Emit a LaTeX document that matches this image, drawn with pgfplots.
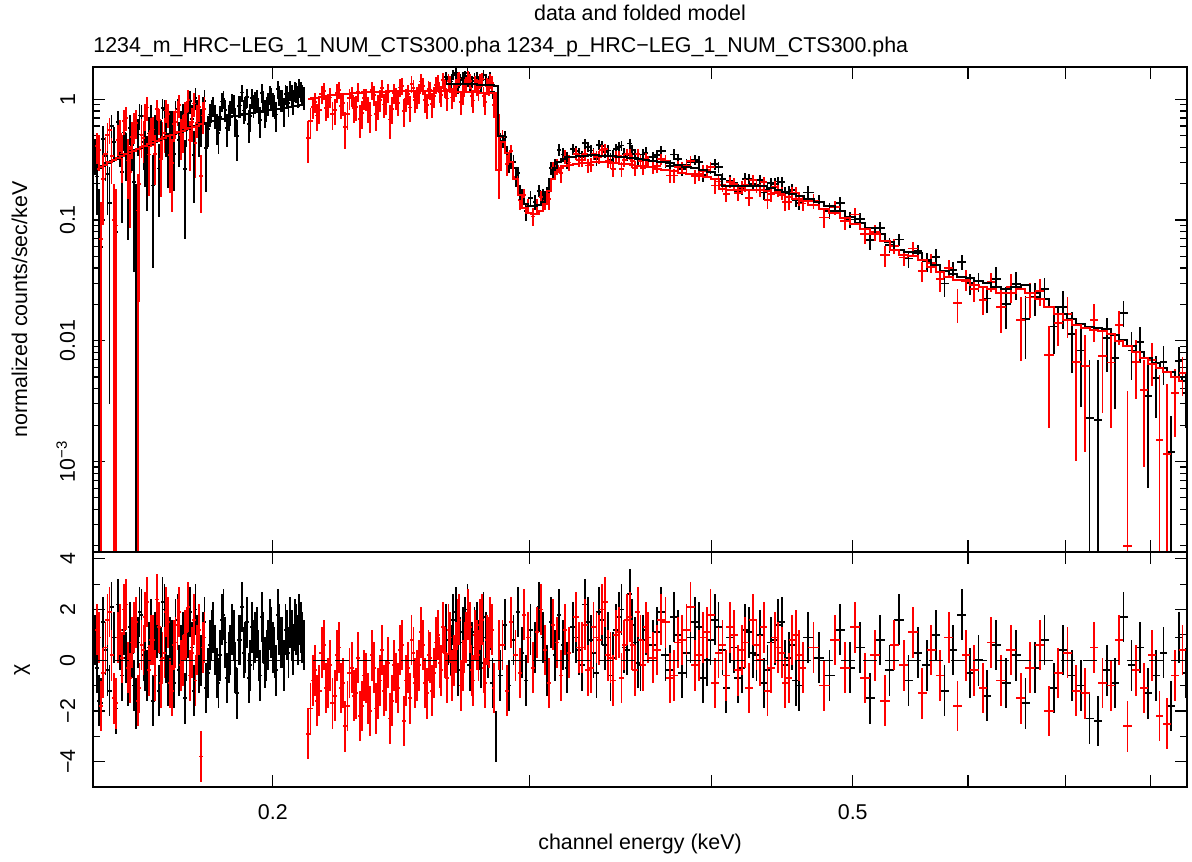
\documentclass[border=0pt]{standalone}
\usepackage{pgfplots}
\usepackage{pgfplotstable}
\pgfplotsset{compat=1.18}
\usepackage{fontspec}
\setmainfont{Liberation Sans}

% black (m order), segment A
\pgfplotstableread{
E dE y dy m r
0.151 0.0005 0.354 0.117 0.26 0.8
0.152 0.0005 0.09 0.0899 0.27 -1.6
0.153 0.0005 0.469 0.126 0.28 1.5
0.154 0.0005 0.242 0.133 0.295 -0.4
0.155 0.0005 0.603 0.140 0.31 2.1
0.156 0.0005 0.08 0.0799 0.32 -1.9
0.157 0.0005 0.425 0.151 0.335 0.6
0.158 0.0005 0.531 0.155 0.345 1.2
0.159 0.0005 0.230 0.162 0.36 -0.8
0.160 0.0005 0.420 0.167 0.37 0.3
0.161 0.0005 0.10 0.0999 0.38 -1.7
0.162 0.0005 0.733 0.178 0.395 1.9
0.163 0.0005 0.441 0.182 0.405 0.2
0.164 0.0005 0.307 0.189 0.42 -0.6
0.165 0.0005 0.701 0.194 0.43 1.4
0.166 0.0005 0.585 0.156 0.445 0.9
0.167 0.0005 0.267 0.161 0.46 -1.2
0.168 0.0005 0.848 0.165 0.47 2.3
0.169 0.0005 0.502 0.170 0.485 0.1
0.170 0.0005 0.623 0.175 0.50 0.7
0.171 0.0005 0.353 0.180 0.515 -0.9
0.172 0.0005 0.827 0.186 0.53 1.6
0.173 0.0005 0.616 0.189 0.54 0.4
0.174 0.0005 0.264 0.194 0.555 -1.5
0.175 0.0005 0.789 0.200 0.57 1.1
0.176 0.0005 0.687 0.205 0.585 0.5
0.177 0.0005 1.02 0.21 0.60 2.0
0.178 0.0005 0.546 0.214 0.61 -0.3
0.179 0.0005 0.822 0.219 0.625 0.9
0.180 0.0005 0.394 0.224 0.64 -1.1
0.181 0.0005 0.748 0.163 0.65 0.6
0.182 0.0005 0.875 0.165 0.66 1.3
0.183 0.0005 0.586 0.168 0.67 -0.5
0.184 0.0005 0.714 0.170 0.68 0.2
0.185 0.0005 1.00 0.173 0.69 1.8
0.186 0.0005 0.578 0.175 0.70 -0.7
0.187 0.0005 0.781 0.178 0.71 0.4
0.188 0.0005 0.90 0.18 0.72 1.0
0.189 0.0005 0.493 0.183 0.73 -1.3
0.190 0.0005 0.888 0.185 0.74 0.8
0.191 0.0005 0.806 0.188 0.75 0.3
0.192 0.0005 1.038 0.189 0.755 1.5
0.193 0.0005 0.727 0.191 0.765 -0.2
0.194 0.0005 0.886 0.193 0.77 0.6
0.195 0.0005 0.995 0.195 0.78 1.1
0.196 0.0005 0.672 0.198 0.79 -0.6
0.197 0.0005 0.974 0.199 0.795 0.9
0.198 0.0005 0.845 0.201 0.805 0.2
0.199 0.0005 1.094 0.203 0.81 1.4
0.200 0.0005 0.923 0.205 0.82 0.5
0.201 0.0005 0.747 0.208 0.83 -0.4
0.202 0.0005 1.086 0.209 0.835 1.2
0.203 0.0005 0.993 0.211 0.845 0.7
0.204 0.0005 1.105 0.213 0.85 1.2
0.205 0.0005 0.925 0.215 0.86 0.3
0.206 0.0005 1.088 0.218 0.87 1.0
0.207 0.0005 1.181 0.219 0.875 1.4
0.208 0.0005 1.062 0.221 0.885 0.8
0.209 0.0005 1.179 0.223 0.89 1.3
0.210 0.0005 1.035 0.225 0.90 0.6
}\bA

% black, segment A, interleaved bins
\pgfplotstableread{
E dE y dy r
0.1515 0.0005 0.229 0.119 -0.3
0.1525 0.0005 0.06 0.0599 -1.7
0.1535 0.0005 0.339 0.129 0.4
0.1545 0.0005 0.139 0.136 -1.2
0.1555 0.0005 0.443 0.142 0.9
0.1565 0.0005 0.652 0.147 2.2
0.1575 0.0005 0.248 0.153 -0.6
0.1585 0.0005 0.368 0.159 0.1
0.1595 0.0005 0.579 0.164 1.3
0.1605 0.0005 0.206 0.169 -1.0
0.1615 0.0005 0.510 0.174 0.7
0.1625 0.0005 0.724 0.18 1.8
0.1635 0.0005 0.375 0.186 -0.2
0.1645 0.0005 0.521 0.191 0.5
0.1655 0.0005 0.193 0.153 -1.6
0.1665 0.0005 0.627 0.158 1.1
0.1675 0.0005 0.514 0.163 0.3
0.1685 0.0005 0.812 0.167 2.0
0.1695 0.0005 0.355 0.172 -0.8
0.1705 0.0005 0.614 0.178 0.6
0.1715 0.0005 0.779 0.183 1.4
0.1725 0.0005 0.460 0.187 -0.4
0.1735 0.0005 0.720 0.192 0.9
0.1745 0.0005 0.602 0.197 0.2
0.1755 0.0005 0.962 0.202 1.9
0.1765 0.0005 0.344 0.207 -1.2
0.1775 0.0005 0.774 0.212 0.8
0.1785 0.0005 0.618 0.216 0.0
0.1795 0.0005 0.965 0.221 1.5
0.1805 0.0005 0.564 0.161 -0.5
0.1815 0.0005 0.819 0.164 1.0
0.1825 0.0005 0.732 0.166 0.4
0.1835 0.0005 0.523 0.169 -0.9
0.1845 0.0005 0.959 0.171 1.6
0.1855 0.0005 0.817 0.174 0.7
0.1865 0.0005 0.723 0.176 0.1
0.1875 0.0005 0.930 0.179 1.2
0.1885 0.0005 0.671 0.181 -0.3
0.1895 0.0005 0.882 0.184 0.8
0.1905 0.0005 1.136 0.186 2.1
0.1915 0.0005 0.847 0.188 0.5
0.1925 0.0005 0.627 0.19 -0.7
0.1935 0.0005 1.017 0.192 1.3
0.1945 0.0005 0.949 0.194 0.9
0.1955 0.0005 0.824 0.196 0.2
0.1965 0.0005 1.129 0.198 1.7
0.1975 0.0005 0.780 0.2 -0.1
0.1985 0.0005 0.929 0.202 0.6
0.1995 0.0005 1.039 0.204 1.1
0.2005 0.0005 0.887 0.206 0.3
0.2015 0.0005 1.207 0.208 1.8
0.2025 0.0005 0.987 0.21 0.7
0.2035 0.0005 0.805 0.212 -0.2
0.2045 0.0005 1.069 0.214 1.0
0.2055 0.0005 1.189 0.216 1.5
0.2065 0.0005 0.960 0.218 0.4
0.2075 0.0005 1.144 0.22 1.2
0.2085 0.0005 1.243 0.222 1.6
0.2095 0.0005 1.096 0.224 0.9
}\bAii

% black, segments B and C
\pgfplotstableread{
E dE y dy m r
0.263 0.001 1.533 0.161 1.34 1.2
0.265 0.001 1.402 0.161 1.338 0.4
0.267 0.001 1.639 0.160 1.335 1.9
0.269 0.001 1.445 0.160 1.333 0.7
0.271 0.001 1.569 0.160 1.33 1.5
0.273 0.001 1.296 0.159 1.328 -0.2
0.275 0.001 1.500 0.159 1.325 1.1
0.277 0.001 1.415 0.158 1.32 0.6
0.279 0.001 1.583 0.158 1.315 1.7
0.281 0.001 1.357 0.157 1.31 0.3
0.283 0.001 1.160 0.156 1.30 -0.9
0.2845 0.0005 0.85 0.154 1.28 -3.0
0.2865 0.001 0.455 0.075 0.50 -0.6
0.2885 0.001 0.484 0.060 0.40 1.4
0.2905 0.001 0.298 0.053 0.35 -1.0
0.2925 0.001 0.302 0.041 0.27 0.8
0.2945 0.001 0.244 0.029 0.19 1.9
0.2965 0.001 0.157 0.023 0.15 0.3
0.2985 0.001 0.119 0.020 0.135 -0.8
0.3005 0.001 0.153 0.020 0.13 1.2
0.3025 0.001 0.140 0.020 0.13 0.5
0.3045 0.001 0.174 0.020 0.132 2.1
0.3065 0.001 0.159 0.021 0.14 0.9
0.3085 0.001 0.160 0.026 0.17 -0.4
0.3105 0.001 0.270 0.033 0.22 1.5
0.3125 0.001 0.278 0.041 0.27 0.2
0.3145 0.001 0.381 0.045 0.30 1.8
0.3165 0.001 0.349 0.048 0.32 0.6
0.3185 0.001 0.315 0.050 0.33 -0.3
0.3215 0.0015 0.387 0.040 0.335 1.3
0.3245 0.0015 0.356 0.041 0.34 0.4
0.3275 0.0015 0.432 0.041 0.342 2.2
0.3305 0.0015 0.376 0.041 0.343 0.8
0.3335 0.0015 0.322 0.041 0.343 -0.5
0.3365 0.0015 0.408 0.041 0.342 1.6
0.3395 0.0015 0.377 0.041 0.34 0.9
0.3425 0.0015 0.342 0.041 0.338 0.1
0.3455 0.0015 0.403 0.040 0.335 1.7
0.3485 0.0015 0.352 0.040 0.332 0.5
0.3515 0.0015 0.430 0.039 0.328 2.6
0.3545 0.0015 0.351 0.039 0.324 0.7
0.3575 0.0015 0.312 0.038 0.32 -0.2
0.3605 0.0015 0.361 0.038 0.316 1.2
0.3645 0.0025 0.332 0.037 0.31 0.6
0.3695 0.0025 0.371 0.036 0.302 1.9
0.3745 0.0025 0.280 0.035 0.294 -0.4
0.3795 0.0025 0.320 0.034 0.286 1.0
0.3845 0.0025 0.287 0.033 0.277 0.3
0.3895 0.0025 0.316 0.032 0.268 1.5
0.3945 0.0025 0.236 0.031 0.258 -0.7
0.3995 0.0025 0.272 0.030 0.248 0.8
0.4045 0.0025 0.275 0.029 0.238 1.3
0.4095 0.0025 0.165 0.023 0.19 -1.1
0.4145 0.0025 0.201 0.023 0.19 0.5
0.4195 0.0025 0.185 0.023 0.192 -0.3
0.4245 0.0025 0.218 0.023 0.193 1.1
0.4295 0.0025 0.197 0.023 0.192 0.2
0.4345 0.0025 0.169 0.023 0.19 -0.9
0.4395 0.0025 0.201 0.022 0.185 0.7
0.4445 0.0025 0.208 0.021 0.178 1.4
0.4495 0.0025 0.167 0.021 0.171 -0.2
0.4545 0.0025 0.177 0.020 0.165 0.6
0.4595 0.0025 0.139 0.019 0.158 -1.0
0.466 0.004 0.169 0.021 0.150 0.9
0.474 0.004 0.142 0.020 0.140 0.1
0.482 0.004 0.119 0.018 0.130 -0.6
0.490 0.004 0.138 0.017 0.118 1.2
0.498 0.004 0.101 0.015 0.105 -0.3
0.506 0.004 0.102 0.013 0.095 0.5
0.514 0.004 0.068 0.012 0.086 -1.5
0.522 0.004 0.086 0.011 0.077 0.8
0.530 0.004 0.062 0.0092 0.066 -0.4
0.538 0.004 0.069 0.0078 0.056 1.6
0.546 0.004 0.048 0.0076 0.054 -0.8
0.554 0.004 0.055 0.0074 0.053 0.3
0.562 0.004 0.0453 0.0085 0.047 -0.2
0.570 0.004 0.0496 0.0076 0.042 1.0
0.578 0.004 0.0298 0.0068 0.038 -1.2
0.586 0.004 0.0386 0.0065 0.036 0.4
0.594 0.004 0.0450 0.0061 0.034 1.8
0.602 0.004 0.0300 0.0059 0.033 -0.5
0.610 0.004 0.0310 0.0056 0.031 0.0
0.618 0.004 0.0224 0.0054 0.030 -1.4
0.627 0.005 0.0327 0.0078 0.028 0.6
0.637 0.005 0.0202 0.0076 0.027 -0.9
0.647 0.005 0.0296 0.0078 0.028 0.2
0.657 0.005 0.0152 0.0081 0.029 -1.7
0.667 0.005 0.0229 0.0070 0.025 -0.3
0.677 0.005 0.0269 0.0062 0.022 0.8
0.687 0.005 0.0131 0.0053 0.019 -1.1
0.697 0.005 0.0191 0.0066 0.0165 0.4
0.707 0.005 0.0114 0.0060 0.0150 -0.6
0.717 0.005 0.0083 0.0055 0.0138 -1.0
0.727 0.005 nan 0 0.0131 -2.3
0.737 0.005 nan 0 0.0128 -2.4
0.747 0.005 0.0105 0.0050 0.0125 -0.4
0.757 0.005 0.0072 0.0045 0.0112 -0.9
0.767 0.005 0.0171 0.0041 0.0102 1.7
0.777 0.005 0.0083 0.0036 0.0090 -0.2
0.787 0.005 0.0097 0.0032 0.0081 0.5
0.797 0.005 0.0035 0.0029 0.0072 -1.3
0.807 0.005 0.0049 0.0026 0.0065 -0.6
0.817 0.005 0.0067 0.0024 0.0060 0.3
0.827 0.005 nan 0 0.0055 -1.8
0.837 0.005 0.0068 0.0020 0.0050 0.9
0.847 0.005 0.0037 0.0018 0.0046 -0.5
}\bBC

% black, segments B and C, interleaved bins
\pgfplotstableread{
E dE y dy r
0.264 0.001 1.468 0.161 0.8
0.266 0.001 1.594 0.160 1.6
0.268 0.001 1.270 0.160 -0.4
0.270 0.001 1.508 0.160 1.1
0.272 0.001 1.648 0.159 2.0
0.274 0.001 1.407 0.159 0.5
0.276 0.001 1.529 0.159 1.3
0.278 0.001 1.302 0.158 -0.1
0.280 0.001 1.455 0.158 0.9
0.282 0.001 1.524 0.157 1.4
0.3230 0.0015 0.373 0.040 0.9
0.3260 0.0015 0.333 0.041 -0.2
0.3290 0.0015 0.404 0.041 1.5
0.3320 0.0015 0.355 0.041 0.3
0.3350 0.0015 0.421 0.041 1.9
0.3380 0.0015 0.366 0.041 0.6
0.3410 0.0015 0.315 0.041 -0.6
0.3440 0.0015 0.386 0.040 1.2
0.3470 0.0015 0.414 0.040 2.0
0.3500 0.0015 0.346 0.040 0.4
0.3530 0.0015 0.381 0.039 1.4
0.3560 0.0015 0.318 0.039 -0.1
0.3590 0.0015 0.349 0.038 0.8
0.367 0.0025 0.346 0.037 1.1
0.372 0.0025 0.305 0.036 0.2
0.377 0.0025 0.349 0.035 1.7
0.382 0.0025 0.264 0.034 -0.5
0.387 0.0025 0.301 0.033 0.9
0.392 0.0025 0.304 0.032 1.3
0.397 0.0025 0.253 0.030 0.0
0.402 0.0025 0.290 0.029 1.6
0.407 0.0025 0.220 0.025 0.4
0.412 0.0025 0.211 0.023 0.9
0.417 0.0025 0.175 0.023 -0.7
0.422 0.0025 0.220 0.023 1.2
0.427 0.0025 0.200 0.023 0.3
0.432 0.0025 0.214 0.023 1.0
0.437 0.0025 0.179 0.023 -0.4
0.442 0.0025 0.199 0.022 0.8
0.447 0.0025 0.207 0.021 1.5
0.452 0.0025 0.170 0.020 0.1
0.457 0.0025 0.146 0.019 -0.8
}\bBii

% black, points whose lower error reaches zero
\pgfplotstableread{
E dE y em ep
0.727 0.005 0.0023 0.00229 0.0046
0.737 0.005 0.0022 0.00219 0.0047
0.827 0.005 0.0012 0.00119 0.0012
}\bX

% red (p order), segment A
\pgfplotstableread{
E dE y dy m r
0.1515 0.0005 0.408 0.119 0.265 1.2
0.1525 0.0005 0.07 0.0699 0.275 -1.8
0.1535 0.0005 0.353 0.130 0.288 0.5
0.1545 0.0005 0.560 0.136 0.302 1.9
0.1555 0.0005 0.10 0.0999 0.315 -1.5
0.1565 0.0005 0.461 0.148 0.328 0.9
0.1575 0.0005 0.355 0.153 0.34 0.1
0.1585 0.0005 0.700 0.158 0.352 2.2
0.1595 0.0005 0.250 0.164 0.365 -0.7
0.1605 0.0005 0.594 0.169 0.375 1.3
0.1615 0.0005 0.12 0.1199 0.388 -1.6
0.1625 0.0005 0.508 0.18 0.40 0.6
0.1635 0.0005 0.727 0.185 0.412 1.7
0.1645 0.0005 0.349 0.191 0.425 -0.4
0.1655 0.0005 0.561 0.153 0.438 0.8
0.1665 0.0005 0.832 0.158 0.452 2.4
0.1675 0.0005 0.319 0.163 0.465 -0.9
0.1685 0.0005 0.528 0.167 0.478 0.3
0.1695 0.0005 0.750 0.172 0.492 1.5
0.1705 0.0005 0.295 0.178 0.508 -1.2
0.1715 0.0005 0.650 0.183 0.522 0.7
0.1725 0.0005 0.891 0.187 0.535 1.9
0.1735 0.0005 0.548 0.192 0.548 0.0
0.1745 0.0005 0.778 0.197 0.562 1.1
0.1755 0.0005 0.457 0.202 0.578 -0.6
0.1765 0.0005 0.924 0.207 0.592 1.6
0.1775 0.0005 0.690 0.212 0.605 0.4
0.1785 0.0005 0.23 0.115 0.618 -3.8
0.1795 0.0005 0.831 0.221 0.632 0.9
}\rA

% red, segment A, interleaved bins
\pgfplotstableread{
E dE y dy r
0.152 0.0005 0.379 0.122 0.9
0.153 0.0005 0.217 0.126 -0.5
0.154 0.0005 0.507 0.133 1.6
0.155 0.0005 0.338 0.14 0.2
0.156 0.0005 0.09 0.0899 -1.7
0.157 0.0005 0.516 0.151 1.2
0.158 0.0005 0.656 0.155 2.0
0.159 0.0005 0.311 0.162 -0.3
0.160 0.0005 0.487 0.167 0.7
0.161 0.0005 0.637 0.171 1.5
0.162 0.0005 0.199 0.178 -1.1
0.163 0.0005 0.478 0.182 0.4
0.164 0.0005 0.855 0.189 2.3
0.165 0.0005 0.550 0.151 0.8
0.166 0.0005 0.352 0.156 -0.6
0.167 0.0005 0.669 0.161 1.3
0.168 0.0005 0.486 0.165 0.1
0.169 0.0005 0.808 0.17 1.9
0.170 0.0005 0.343 0.175 -0.9
0.171 0.0005 0.623 0.18 0.6
0.172 0.0005 0.790 0.186 1.4
0.173 0.0005 0.502 0.189 -0.2
0.174 0.0005 0.749 0.194 1.0
0.175 0.0005 0.989 0.2 2.1
0.176 0.0005 0.646 0.205 0.3
0.177 0.0005 0.432 0.21 -0.8
0.178 0.0005 0.866 0.214 1.2
0.179 0.0005 0.734 0.219 0.5
}\rAii

% red, segments B and C
\pgfplotstableread{
E dE y dy m r
0.2115 0.00075 0.478 0.18 1.00 -2.9
0.2130 0.00075 0.869 0.183 1.015 -0.8
0.2145 0.00075 0.733 0.185 1.03 -1.6
0.2160 0.00075 1.101 0.188 1.045 0.3
0.2175 0.00075 0.850 0.191 1.06 -1.1
0.2190 0.00075 1.036 0.194 1.075 -0.2
0.2205 0.00075 0.812 0.195 1.085 -1.4
0.2220 0.00075 1.194 0.197 1.095 0.5
0.2235 0.00075 0.926 0.199 1.105 -0.9
0.2250 0.00075 0.754 0.201 1.115 -1.8
0.2265 0.00075 1.060 0.202 1.12 -0.3
0.2280 0.00075 0.866 0.203 1.13 -1.3
0.2295 0.00075 0.686 0.204 1.135 -2.2
0.2310 0.00075 1.017 0.205 1.14 -0.6
0.2325 0.00075 0.836 0.206 1.145 -1.5
0.2340 0.00075 1.191 0.207 1.15 0.2
0.2355 0.00075 0.757 0.207 1.15 -1.9
0.2370 0.00075 0.989 0.208 1.155 -0.8
0.2385 0.00075 0.906 0.208 1.155 -1.2
0.2400 0.00075 1.139 0.209 1.16 -0.1
0.2415 0.00075 0.827 0.209 1.162 -1.6
0.2430 0.00075 1.018 0.210 1.165 -0.7
0.2445 0.00075 1.250 0.210 1.166 0.4
0.2460 0.00075 0.80 0.210 1.168 -2.4
0.2475 0.00075 1.107 0.211 1.17 -0.3
0.2490 0.00075 1.338 0.211 1.17 0.8
0.2505 0.00075 0.980 0.211 1.17 -0.9
0.2520 0.00075 1.128 0.211 1.17 -0.2
0.2535 0.00075 1.296 0.211 1.17 0.6
0.2550 0.00075 0.895 0.210 1.168 -1.3
0.2565 0.00075 1.188 0.210 1.167 0.1
0.2580 0.00075 1.061 0.210 1.166 -0.5
0.2595 0.00075 1.375 0.210 1.165 1.0
0.2610 0.00075 1.079 0.209 1.163 -0.4
0.2625 0.00075 1.225 0.209 1.162 0.3
0.2640 0.00075 1.411 0.209 1.16 1.2
0.2655 0.00075 1.033 0.208 1.158 -0.6
0.2670 0.00075 1.259 0.208 1.155 0.5
0.2685 0.00075 1.485 0.208 1.153 1.6
0.2700 0.00075 1.109 0.207 1.15 -0.2
0.2715 0.00075 1.333 0.206 1.147 0.9
0.2730 0.00075 1.412 0.206 1.144 1.3
0.2745 0.00075 0.977 0.205 1.141 -0.8
0.2760 0.00075 1.261 0.205 1.138 0.6
0.2775 0.00075 1.421 0.204 1.135 1.4
0.2790 0.00075 1.071 0.204 1.132 -0.3
0.2805 0.00075 1.292 0.203 1.129 0.8
0.2820 0.00075 1.429 0.203 1.125 1.5
0.2835 0.00075 0.898 0.202 1.12 -1.1
0.2860 0.0005 0.45 0.30 0.26 0.6
0.2875 0.001 0.482 0.070 0.44 0.6
0.2895 0.001 0.291 0.058 0.36 -1.2
0.2915 0.001 0.372 0.048 0.30 1.5
0.2935 0.001 0.227 0.035 0.22 0.2
0.2955 0.001 0.147 0.026 0.16 -0.5
0.2975 0.001 0.161 0.020 0.125 1.8
0.2995 0.001 0.132 0.018 0.115 0.9
0.3015 0.001 0.107 0.018 0.112 -0.3
0.3035 0.001 0.132 0.018 0.112 1.1
0.3055 0.001 0.156 0.019 0.118 2.0
0.3075 0.001 0.144 0.022 0.135 0.4
0.3095 0.001 0.150 0.028 0.175 -0.9
0.3115 0.001 0.269 0.035 0.22 1.4
0.3135 0.001 0.278 0.040 0.25 0.7
0.3155 0.001 0.244 0.043 0.27 -0.6
0.3175 0.001 0.334 0.045 0.28 1.2
0.3195 0.001 0.299 0.046 0.285 0.3
0.3230 0.0015 0.354 0.038 0.29 1.7
0.3260 0.0015 0.314 0.038 0.295 0.5
0.3290 0.0015 0.283 0.039 0.298 -0.4
0.3320 0.0015 0.351 0.039 0.30 1.3
0.3350 0.0015 0.331 0.039 0.30 0.8
0.3380 0.0015 0.390 0.039 0.30 2.3
0.3410 0.0015 0.302 0.039 0.298 0.1
0.3440 0.0015 0.334 0.038 0.296 1.0
0.3470 0.0015 0.266 0.038 0.293 -0.7
0.3500 0.0015 0.350 0.038 0.29 1.6
0.3530 0.0015 0.308 0.037 0.286 0.6
0.3560 0.0015 0.352 0.037 0.282 1.9
0.3590 0.0015 0.271 0.036 0.278 -0.2
0.3620 0.0015 0.306 0.036 0.274 0.9
0.367 0.0025 0.281 0.035 0.267 0.4
0.372 0.0025 0.311 0.034 0.26 1.5
0.377 0.0025 0.234 0.033 0.254 -0.6
0.382 0.0025 0.273 0.032 0.247 0.8
0.387 0.0025 0.306 0.031 0.24 2.1
0.392 0.0025 0.239 0.030 0.233 0.2
0.397 0.0025 0.258 0.029 0.226 1.1
0.402 0.0025 0.193 0.028 0.219 -0.9
0.407 0.0025 0.194 0.023 0.18 0.6
0.412 0.0025 0.206 0.023 0.176 1.3
0.417 0.0025 0.168 0.023 0.177 -0.4
0.422 0.0025 0.194 0.023 0.178 0.7
0.427 0.0025 0.215 0.023 0.178 1.6
0.432 0.0025 0.177 0.023 0.177 0.0
0.437 0.0025 0.147 0.023 0.174 -1.2
0.442 0.0025 0.188 0.022 0.168 0.9
0.447 0.0025 0.167 0.021 0.161 0.3
0.452 0.0025 0.141 0.020 0.155 -0.7
0.457 0.0025 0.168 0.019 0.149 1.0
0.462 0.0025 0.137 0.019 0.143 -0.3
0.470 0.004 0.143 0.020 0.133 0.5
0.478 0.004 0.105 0.019 0.124 -1.0
0.486 0.004 0.128 0.017 0.114 0.8
0.494 0.004 0.098 0.015 0.103 -0.3
0.502 0.004 0.111 0.014 0.093 1.3
0.510 0.004 0.076 0.013 0.085 -0.7
0.518 0.004 0.079 0.012 0.077 0.2
0.526 0.004 0.051 0.010 0.067 -1.6
0.534 0.004 0.061 0.0084 0.056 0.6
0.542 0.004 0.049 0.0077 0.051 -0.2
0.550 0.004 0.058 0.0075 0.050 1.1
0.558 0.004 0.038 0.0071 0.047 -1.3
0.566 0.004 0.0443 0.0082 0.041 0.4
0.574 0.004 0.0326 0.0074 0.037 -0.6
0.582 0.004 0.0401 0.0068 0.034 0.9
0.590 0.004 0.0205 0.0064 0.032 -1.8
0.598 0.004 0.0322 0.0062 0.031 0.2
0.606 0.004 0.0267 0.0058 0.029 -0.4
0.614 0.004 0.0218 0.0056 0.028 -1.1
0.622 0.004 0.0308 0.0054 0.027 0.7
0.632 0.005 0.0190 0.0075 0.025 -0.8
0.642 0.005 0.0280 0.0075 0.025 0.4
0.652 0.005 0.0149 0.0081 0.027 -1.5
0.662 0.005 0.0228 0.0075 0.025 -0.3
0.672 0.005 0.0260 0.0066 0.022 0.6
0.682 0.005 0.0076 0.0057 0.019 -2.0
0.692 0.005 0.0140 0.0050 0.0165 -0.5
0.702 0.005 0.0167 0.0062 0.0148 0.3
0.712 0.005 0.0067 0.0057 0.0135 -1.2
0.722 0.005 0.0062 0.0050 0.0127 -1.3
0.732 0.005 0.0149 0.0052 0.0123 0.5
0.742 0.005 0.0075 0.0050 0.0120 -0.9
0.752 0.005 0.0066 0.0047 0.0113 -1.0
0.762 0.005 0.0134 0.0042 0.0100 0.8
0.772 0.005 nan 0 0.0090 -2.6
0.782 0.005 0.0067 0.0034 0.0080 -0.4
0.792 0.005 0.0039 0.0030 0.0072 -1.1
0.802 0.005 0.0069 0.0027 0.0064 0.2
0.812 0.005 nan 0 0.0059 -2.2
0.822 0.005 nan 0 0.0055 -2.5
0.832 0.005 0.0037 0.0021 0.0050 -0.6
0.842 0.005 0.0054 0.0019 0.0046 0.4
}\rBC

% red, segments B and C, interleaved bins
\pgfplotstableread{
E dE y dy r
0.21225 0.00075 0.663 0.181 -1.9
0.21375 0.00075 0.949 0.184 -0.4
0.21525 0.00075 0.814 0.187 -1.2
0.21675 0.00075 1.167 0.190 0.6
0.21825 0.00075 0.895 0.192 -0.9
0.21975 0.00075 0.750 0.194 -1.7
0.22125 0.00075 1.129 0.196 0.2
0.22275 0.00075 0.882 0.198 -1.1
0.22425 0.00075 0.591 0.200 -2.6
0.22575 0.00075 1.017 0.201 -0.5
0.22725 0.00075 0.842 0.203 -1.4
0.22875 0.00075 1.153 0.204 0.1
0.23025 0.00075 0.769 0.205 -1.8
0.23175 0.00075 0.999 0.206 -0.7
0.23325 0.00075 0.735 0.207 -2.0
0.23475 0.00075 1.088 0.207 -0.3
0.23625 0.00075 0.883 0.208 -1.3
0.23775 0.00075 1.238 0.208 0.4
0.23925 0.00075 0.950 0.208 -1.0
0.24075 0.00075 0.680 0.209 -2.3
0.24225 0.00075 1.122 0.210 -0.2
0.24375 0.00075 0.935 0.210 -1.1
0.24525 0.00075 1.293 0.210 0.6
0.24675 0.00075 1.001 0.210 -0.8
0.24825 0.00075 0.854 0.211 -1.5
0.24975 0.00075 1.233 0.211 0.3
0.25125 0.00075 1.044 0.211 -0.6
0.25275 0.00075 1.402 0.211 1.1
0.25425 0.00075 0.980 0.210 -0.9
0.25575 0.00075 1.210 0.210 0.2
0.25725 0.00075 0.915 0.210 -1.2
0.25875 0.00075 1.313 0.210 0.7
0.26025 0.00075 1.143 0.210 -0.1
0.26175 0.00075 1.435 0.209 1.3
0.26325 0.00075 1.015 0.209 -0.7
0.26475 0.00075 1.347 0.209 0.9
0.26625 0.00075 1.157 0.208 0.0
0.26775 0.00075 1.445 0.208 1.4
0.26925 0.00075 0.945 0.207 -1.0
0.27075 0.00075 1.252 0.207 0.5
0.27225 0.00075 1.517 0.206 1.8
0.27375 0.00075 1.061 0.206 -0.4
0.27525 0.00075 1.345 0.205 1.0
0.27675 0.00075 1.178 0.205 0.2
0.27825 0.00075 1.461 0.204 1.6
0.27975 0.00075 0.948 0.204 -0.9
0.28125 0.00075 1.269 0.203 0.7
0.28275 0.00075 1.366 0.202 1.2
0.3245 0.0015 0.312 0.038 0.5
0.3275 0.0015 0.350 0.039 1.4
0.3305 0.0015 0.287 0.039 -0.3
0.3335 0.0015 0.335 0.039 0.9
0.3365 0.0015 0.378 0.039 2.0
0.3395 0.0015 0.307 0.039 0.2
0.3425 0.0015 0.266 0.039 -0.8
0.3455 0.0015 0.337 0.038 1.1
0.3485 0.0015 0.314 0.038 0.6
0.3515 0.0015 0.352 0.037 1.7
0.3545 0.0015 0.269 0.037 -0.4
0.3575 0.0015 0.309 0.036 0.8
0.3605 0.0015 0.323 0.036 1.3
0.3645 0.0025 0.274 0.035 0.1
0.3695 0.0025 0.318 0.034 1.6
0.3745 0.0025 0.234 0.033 -0.7
0.3795 0.0025 0.273 0.033 0.7
0.3845 0.0025 0.281 0.032 1.2
0.3895 0.0025 0.230 0.031 -0.2
0.3945 0.0025 0.256 0.030 0.9
0.3995 0.0025 0.275 0.029 1.8
0.4045 0.0025 0.208 0.026 0.3
0.4095 0.0025 0.164 0.023 -0.6
0.4145 0.0025 0.199 0.023 1.0
0.4195 0.0025 0.187 0.023 0.4
0.4245 0.0025 0.153 0.023 -1.1
0.4295 0.0025 0.191 0.023 0.6
0.4345 0.0025 0.205 0.023 1.3
0.4395 0.0025 0.164 0.022 -0.3
0.4445 0.0025 0.175 0.021 0.5
0.4495 0.0025 0.140 0.021 -0.9
0.4545 0.0025 0.168 0.020 0.8
0.4595 0.0025 0.150 0.019 0.2
}\rBii

\pgfplotstableread{
E dE y em ep
0.772 0.005 0.0002 0.000199 0.0036
0.812 0.005 0.0015 0.00149 0.0037
0.822 0.005 0.00115 0.00114 0.0032
}\rX

\pgfplotsset{
  error bars/draw error bar/.code 2 args={\draw[/pgfplots/every error bar] #1 -- #2;},
  databar/.style={draw=none, mark=none,
    error bars/.cd, x dir=both, x explicit, y dir=both, y explicit,
    error mark=none, error bar style={draw=#1, line width=0.9pt}},
  resbar/.style={draw=none, mark=none,
    error bars/.cd, x dir=both, x explicit, y dir=both, y fixed=1,
    error mark=none, error bar style={draw=#1, line width=0.9pt}},
  modl/.style={draw=#1, line width=1pt, const plot mark mid, mark=none},
}

\begin{document}
\begin{tikzpicture}[font=\fontsize{10.7}{12.8}\selectfont]
\useasboundingbox (0,0) rectangle (596pt,430.5pt);

\begin{axis}[at={(46.5pt,154.5pt)}, anchor=south west,
  scale only axis, width=547pt, height=242.5pt,
  xmode=log, ymode=log,
  xmin=0.1505, xmax=0.848, ymin=1.78e-4, ymax=1.85,
  xtick={0.2,0.3,0.4,0.5,0.6,0.7,0.8}, xminorticks=false,
  xticklabels={},
  ytick={0.001,0.01,0.1,1},
  yticklabels={10\textsuperscript{−3},0.01,0.1,1},
  minor ytick={2e-4,3e-4,4e-4,5e-4,6e-4,7e-4,8e-4,9e-4,
    0.002,0.003,0.004,0.005,0.006,0.007,0.008,0.009,
    0.02,0.03,0.04,0.05,0.06,0.07,0.08,0.09,
    0.2,0.3,0.4,0.5,0.6,0.7,0.8,0.9},
  tick align=inside, major tick length=6pt, minor tick length=3.5pt,
  every tick/.append style={black, line width=0.6pt},
  axis line style={line width=0.8pt},
  tick label style={font=\fontsize{10.7}{12.8}\selectfont},
  yticklabel style={xshift=-5.4pt, rotate=90, anchor=south},
  clip=true]
\addplot[databar=black] table[x=E,y=y,x error=dE,y error=dy]{\bA};
\addplot[databar=black] table[x=E,y=y,x error=dE,y error=dy]{\bAii};
\addplot[databar=black] table[x=E,y=y,x error=dE,y error=dy]{\bBC};
\addplot[databar=black] table[x=E,y=y,x error=dE,y error=dy]{\bBii};
\addplot[databar=black] table[x=E,y=y,x error=dE,y error plus=ep,y error minus=em]{\bX};
\addplot[databar=red] table[x=E,y=y,x error=dE,y error=dy]{\rA};
\addplot[databar=red] table[x=E,y=y,x error=dE,y error=dy]{\rAii};
\addplot[databar=red] table[x=E,y=y,x error=dE,y error=dy]{\rBC};
\addplot[databar=red] table[x=E,y=y,x error=dE,y error=dy]{\rBii};
\addplot[databar=red] table[x=E,y=y,x error=dE,y error plus=ep,y error minus=em]{\rX};
\addplot[modl=black] table[x=E,y=m]{\bA};
\addplot[modl=black] table[x=E,y=m]{\bBC};
\addplot[modl=red] table[x=E,y=m]{\rA};
\addplot[modl=red] table[x=E,y=m]{\rBC};
\end{axis}

\begin{axis}[at={(46.5pt,37pt)}, anchor=south west,
  scale only axis, width=547pt, height=117.5pt,
  xmode=log,
  xmin=0.1505, xmax=0.848, ymin=-5, ymax=4.27,
  xtick={0.2,0.3,0.4,0.5,0.6,0.7,0.8}, xminorticks=false,
  xticklabels={0.2,,,0.5,,,},
  ytick={-4,-2,0,2,4},
  yticklabels={−4,−2,0,2,4},
  minor ytick={-3,-1,1,3},
  tick align=inside, major tick length=6pt, minor tick length=3.5pt,
  every tick/.append style={black, line width=0.6pt},
  axis line style={line width=0.8pt},
  tick label style={font=\fontsize{10.7}{12.8}\selectfont},
  yticklabel style={xshift=-5.4pt, rotate=90, anchor=south},
  xticklabel style={yshift=-5pt},
  clip=true]
\addplot[resbar=black] table[x=E,y=r,x error=dE]{\bA};
\addplot[resbar=black] table[x=E,y=r,x error=dE]{\bAii};
\addplot[resbar=black] table[x=E,y=r,x error=dE]{\bBC};
\addplot[resbar=black] table[x=E,y=r,x error=dE]{\bBii};
\addplot[resbar=red] table[x=E,y=r,x error=dE]{\rA};
\addplot[resbar=red] table[x=E,y=r,x error=dE]{\rAii};
\addplot[resbar=red] table[x=E,y=r,x error=dE]{\rBC};
\addplot[resbar=red] table[x=E,y=r,x error=dE]{\rBii};
\addplot[black, line width=0.5pt, dash pattern=on 7pt off 4pt] coordinates {(0.1505,0) (0.848,0)};
\end{axis}

\node[anchor=base] at (320pt,420pt) {data and folded model};
\node[anchor=base west, inner sep=0pt] at (46.5pt,404pt) {1234\_m\_HRC−LEG\_1\_NUM\_CTS300.pha 1234\_p\_HRC−LEG\_1\_NUM\_CTS300.pha};
\node[anchor=base] at (320pt,6pt) {channel energy (keV)};
\node[rotate=90, anchor=base] at (13.5pt,275.75pt) {normalized counts/sec/keV};
\node[rotate=90] at (11pt,95.75pt) {χ};
\end{tikzpicture}
\end{document}
